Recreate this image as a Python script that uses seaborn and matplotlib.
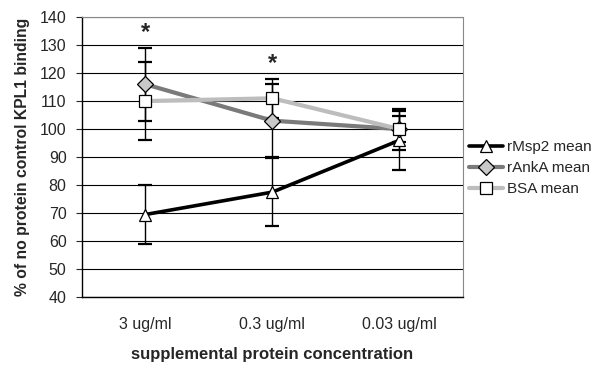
import matplotlib
matplotlib.use("Agg")
import matplotlib.pyplot as plt
import seaborn as sns
import pandas as pd

# data
concentrations = ["3 ug/ml", "0.3 ug/ml", "0.03 ug/ml"]
rmsp2_mean = [69.5, 77.5, 96]
rmsp2_err = [10.5, 12, 10.5]
ranka_mean = [116, 103, 100]
ranka_err = [13, 13, 4.5]
bsa_mean = [110, 111, 100]
bsa_err = [14, 7, 7.3]
star_positions = [0, 1]
star_heights = [134.5, 123.5]

sns.set_style("white")
plt.rcParams["font.family"] = ["Liberation Sans", "DejaVu Sans"]

fig = plt.figure(figsize=(6.06, 3.79), dpi=100)
ax = fig.add_axes([0.135, 0.216, 0.629, 0.739])

series = [
    ("rMsp2 mean", rmsp2_mean, rmsp2_err, "black", 2.6, "^", "white"),
    ("rAnkA mean", ranka_mean, ranka_err, "#7a7a7a", 3.0, "D", "#c8c8c8"),
    ("BSA mean", bsa_mean, bsa_err, "#bdbdbd", 3.0, "s", "white"),
]

x = list(range(len(concentrations)))
for name, mean, err, col, lw, mk, face in series:
    ax.errorbar(x, mean, yerr=err, fmt="none", ecolor="black",
                elinewidth=1.0, capsize=5, capthick=1.6, zorder=2)

for i, (name, mean, err, col, lw, mk, face) in enumerate(series):
    df = pd.DataFrame({"x": x, "y": mean})
    sns.lineplot(data=df, x="x", y="y", ax=ax, color=col, linewidth=lw,
                 marker=mk, markersize=9 if mk != "D" else 8,
                 markerfacecolor=face, markeredgecolor="black",
                 markeredgewidth=0.9, zorder=3 + i, label=name)

for xs, ys in zip(star_positions, star_heights):
    ax.text(xs, ys, "*", ha="center", va="center", fontsize=17,
            fontweight="bold")

ax.set_xlim(-0.5, 2.5)
ax.set_ylim(40, 140)
ax.set_yticks(range(40, 141, 10))
ax.set_xticks(x)
ax.set_xticklabels(concentrations)
ax.set_xticks([-0.5, 0.5, 1.5, 2.5], minor=True)
ax.tick_params(axis="x", which="major", length=0, pad=14, labelsize=11.5)
ax.tick_params(axis="x", which="minor", length=4, direction="out",
               color="black", width=0.8)
ax.tick_params(axis="y", length=4, direction="out", left=True,
               labelsize=11.5, pad=7, width=0.8)
ax.yaxis.grid(True, color="black", linewidth=0.8)
ax.set_axisbelow(True)

for side in ["left", "bottom"]:
    ax.spines[side].set_color("black")
    ax.spines[side].set_linewidth(1.0)
for side in ["top", "right"]:
    ax.spines[side].set_color("#888888")
    ax.spines[side].set_linestyle((0, (1, 1)))
    ax.spines[side].set_linewidth(0.8)

ax.set_xlabel("supplemental protein concentration", fontsize=12,
              fontweight="bold", labelpad=11)
ax.set_ylabel("% of no protein control KPL1 binding", fontsize=11.3,
              fontweight="bold", labelpad=7)

ax.legend(loc="center left", bbox_to_anchor=(1.0, 0.46), frameon=False,
          fontsize=11, handlelength=2.2, handletextpad=0.3,
          labelspacing=0.45, borderaxespad=0)

fig.savefig("out.png", dpi=100)
